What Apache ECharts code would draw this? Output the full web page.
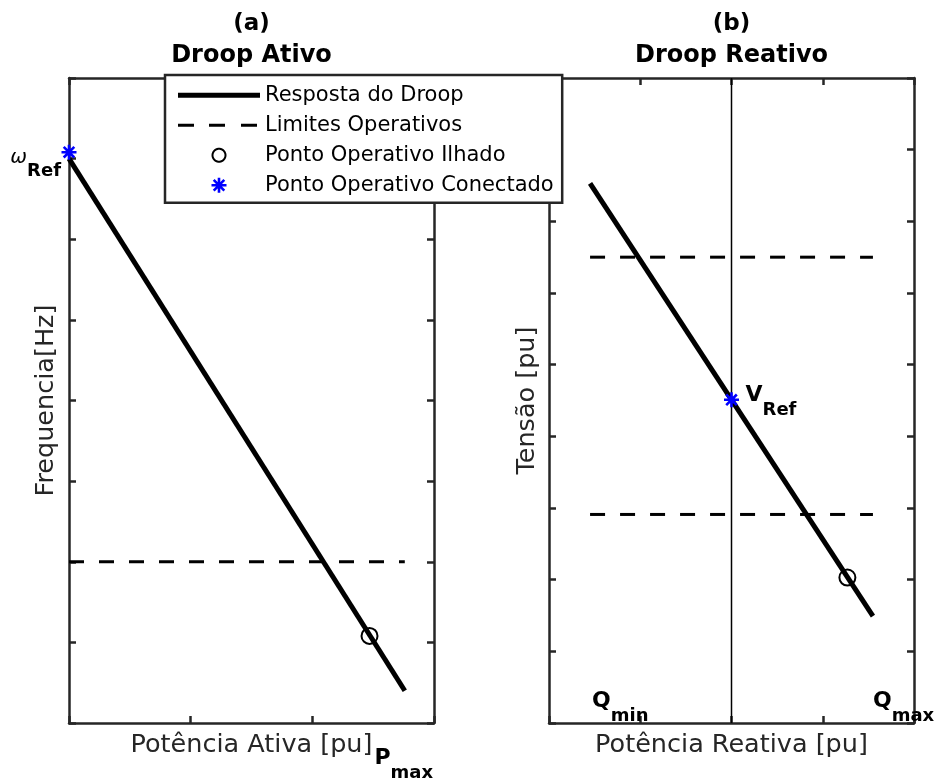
<!DOCTYPE html>
<html>
<head>
<meta charset="utf-8">
<script src="https://cdn.jsdelivr.net/npm/echarts@6/dist/echarts.min.js"></script>
<style>
  html, body { margin: 0; padding: 0; background: #fff; }
  #chart { width: 935px; height: 783px; }
</style>
</head>
<body>
<div id="chart"></div>
<script>
// ---- (a) Droop Ativo: frequency vs active power ----
const activePower = [0, 2.76];          // droop line start / end (pu)
const activeFrequency = [7.0, 0.4];     // matching frequency values
const activeLimit = 2.0;                // operating limit level
const activeIsland = [2.47, 1.08];      // islanded operating point
const activeConnected = [0, 7.08];      // grid-connected operating point (ω_Ref)
const pMax = 2.76;

// ---- (b) Droop Reativo: voltage vs reactive power ----
const reactivePower = [-1.55, 1.55];
const reactiveVoltage = [7.53, 1.49];
const voltageLimits = [6.5, 2.91];
const reactiveIsland = [1.27, 2.03];
const reactiveConnected = [0, 4.51];    // V_Ref
const qMin = -1.55;
const qMax = 1.55;

// ---- axis ranges (ticks only, no numeric labels) ----
const activeXRange = { min: 0, max: 3, interval: 1 };
const activeYRange = { min: 0, max: 8, interval: 1 };
const reactiveXRange = { min: -2, max: 2, interval: 1 };
const reactiveYRange = { min: 0, max: 9, interval: 1 };

// ---- texts ----
const panelTags = ['(a)', '(b)'];
const panelTitles = ['Droop Ativo', 'Droop Reativo'];
const xNames = ['Potência Ativa [pu]', 'Potência Reativa [pu]'];
const yNames = ['Frequencia[Hz]', 'Tensão [pu]'];
const legendNames = ['Resposta do Droop', 'Limites Operativos', 'Ponto Operativo Ilhado', 'Ponto Operativo Conectado'];

const FONT = 'DejaVu Sans';
const FRAME = '#262626';
const grids = [
  { left: 69, top: 78, width: 365, height: 645 },
  { left: 549, top: 78, width: 365, height: 645 }
];

// asterisk marker built from four thin bars
function asteriskPath(cx, cy, r, hw) {
  let d = '';
  [0, 45, 90, 135].forEach(function (deg) {
    const t = deg * Math.PI / 180;
    const dx = Math.cos(t), dy = Math.sin(t);
    const nx = -dy, ny = dx;
    const pts = [
      [cx - r * dx - hw * nx, cy - r * dy - hw * ny],
      [cx + r * dx - hw * nx, cy + r * dy - hw * ny],
      [cx + r * dx + hw * nx, cy + r * dy + hw * ny],
      [cx - r * dx + hw * nx, cy - r * dy + hw * ny]
    ];
    d += 'M' + pts.map(function (p) { return p[0].toFixed(2) + ',' + p[1].toFixed(2); }).join('L') + 'Z';
  });
  return d;
}
function ringPath(cx, cy, ro, ri) {
  const n = 48;
  let outer = [], inner = [];
  for (let i = 0; i < n; i++) {
    const a = i / n * Math.PI * 2;
    outer.push((cx + ro * Math.cos(a)).toFixed(2) + ',' + (cy + ro * Math.sin(a)).toFixed(2));
    inner.push((cx + ri * Math.cos(-a)).toFixed(2) + ',' + (cy + ri * Math.sin(-a)).toFixed(2));
  }
  return 'M' + outer.join('L') + 'Z M' + inner.join('L') + 'Z';
}

// legend icon box
const IW = 82, IH = 15;
const corners = 'M0,0L0.01,0L0,0.01Z M' + IW + ',' + IH + 'L' + (IW - 0.01) + ',' + IH + 'L' + IW + ',' + (IH - 0.01) + 'Z';
const iconLine = 'path://' + corners + ' M0,5L' + IW + ',5L' + IW + ',10L0,10Z';
const iconDash = 'path://' + corners + ' M0,6L16,6L16,9L0,9Z M31,6L47,6L47,9L31,9Z M63,6L79,6L79,9L63,9Z';
const iconRing = 'path://' + corners + ' ' + ringPath(IW / 2, IH / 2, 7.5, 5.5);
const iconStar = 'path://' + corners + ' ' + asteriskPath(IW / 2, IH / 2, 7.5, 1.3);
const starSymbol = 'path://' + asteriskPath(0, 0, 7.5, 1.3);

function frameAxis(gridIndex, position, range, extra) {
  return Object.assign({
    type: 'value', gridIndex: gridIndex, position: position,
    min: range.min, max: range.max, interval: range.interval,
    axisLine: { show: true, onZero: false, lineStyle: { color: FRAME, width: 2.5 } },
    axisTick: { show: true, inside: true, length: 7, lineStyle: { color: FRAME, width: 2.5 } },
    axisLabel: { show: false },
    splitLine: { show: false }
  }, extra || {});
}
const nameStyle = { fontFamily: FONT, fontSize: 25.5, color: FRAME };

const xAxes = [
  frameAxis(0, 'bottom', activeXRange, { name: xNames[0], nameLocation: 'middle', nameGap: 9, nameTextStyle: nameStyle }),
  frameAxis(0, 'top', activeXRange),
  frameAxis(1, 'bottom', reactiveXRange, { name: xNames[1], nameLocation: 'middle', nameGap: 9, nameTextStyle: nameStyle }),
  frameAxis(1, 'top', reactiveXRange)
];
const yAxes = [
  frameAxis(0, 'left', activeYRange, { name: yNames[0], nameLocation: 'middle', nameGap: 10, nameTextStyle: nameStyle }),
  frameAxis(0, 'right', activeYRange),
  frameAxis(1, 'left', reactiveYRange, { name: yNames[1], nameLocation: 'middle', nameGap: 9, nameTextStyle: nameStyle }),
  frameAxis(1, 'right', reactiveYRange)
];

function pairs(xs, ys) { return xs.map(function (x, i) { return [x, ys[i]]; }); }

const droopStyle = { color: '#000', width: 5 };
const limitStyle = { color: '#000', width: 3, type: [15, 15] };

const richStyles = {
  b: { fontFamily: FONT, fontWeight: 'bold', fontSize: 22, color: '#000', padding: [0, 0, 13, 0], verticalAlign: 'bottom' },
  s: { fontFamily: FONT, fontWeight: 'bold', fontSize: 18, color: '#000', verticalAlign: 'bottom' },
  w: { fontFamily: FONT, fontStyle: 'italic', fontSize: 20, color: '#000', padding: [0, 0, 12, 0], verticalAlign: 'bottom' }
};
function annotation(value, text, align, offset) {
  return {
    value: value,
    label: {
      show: true, position: [0, 0], align: align, verticalAlign: 'middle', color: '#000',
      offset: offset, formatter: text, rich: richStyles
    }
  };
}

const islandStyle = { color: 'rgba(0,0,0,0)', borderColor: '#000', borderWidth: 2, opacity: 1 };
const connectedStyle = { color: '#0000ff', opacity: 1 };

const series = [
  // panel (a)
  { name: legendNames[0], type: 'line', xAxisIndex: 0, yAxisIndex: 0, data: pairs(activePower, activeFrequency),
    symbol: 'none', color: '#000', lineStyle: droopStyle, z: 3 },
  { name: legendNames[1], type: 'line', xAxisIndex: 0, yAxisIndex: 0,
    data: [[activePower[0], activeLimit], [activePower[1], activeLimit]],
    symbol: 'none', color: '#000', lineStyle: limitStyle, z: 3 },
  { name: legendNames[2], type: 'scatter', xAxisIndex: 0, yAxisIndex: 0, data: [activeIsland],
    symbol: 'circle', symbolSize: 16, itemStyle: islandStyle, z: 4 },
  { name: legendNames[3], type: 'scatter', xAxisIndex: 0, yAxisIndex: 0, data: [activeConnected],
    symbol: starSymbol, symbolSize: 15, itemStyle: connectedStyle, z: 5 },
  { name: 'notasA', type: 'scatter', xAxisIndex: 0, yAxisIndex: 0, symbolSize: 0, silent: true, z: 6,
    itemStyle: { opacity: 1 },
    data: [
      annotation(activeConnected, '{w|ω}{s|Ref}', 'right', [-8, 12]),
      annotation([pMax, activeYRange.min], '{b|P}{s|max}', 'center', [-1, 42])
    ] },

  // panel (b)
  { name: 'eixoQ0', type: 'line', xAxisIndex: 2, yAxisIndex: 2,
    data: [[0, reactiveYRange.min], [0, reactiveYRange.max]],
    symbol: 'none', lineStyle: { color: '#000', width: 1.5 }, z: 2 },
  { name: legendNames[0], type: 'line', xAxisIndex: 2, yAxisIndex: 2, data: pairs(reactivePower, reactiveVoltage),
    symbol: 'none', color: '#000', lineStyle: droopStyle, z: 3 },
  { name: legendNames[1], type: 'line', xAxisIndex: 2, yAxisIndex: 2,
    data: [[reactivePower[0], voltageLimits[0]], [reactivePower[1], voltageLimits[0]]],
    symbol: 'none', color: '#000', lineStyle: limitStyle, z: 3 },
  { name: legendNames[1], type: 'line', xAxisIndex: 2, yAxisIndex: 2,
    data: [[reactivePower[0], voltageLimits[1]], [reactivePower[1], voltageLimits[1]]],
    symbol: 'none', color: '#000', lineStyle: limitStyle, z: 3 },
  { name: legendNames[2], type: 'scatter', xAxisIndex: 2, yAxisIndex: 2, data: [reactiveIsland],
    symbol: 'circle', symbolSize: 16, itemStyle: islandStyle, z: 4 },
  { name: legendNames[3], type: 'scatter', xAxisIndex: 2, yAxisIndex: 2, data: [reactiveConnected],
    symbol: starSymbol, symbolSize: 15, itemStyle: connectedStyle, z: 5 },
  { name: 'notasB', type: 'scatter', xAxisIndex: 2, yAxisIndex: 2, symbolSize: 0, silent: true, z: 6,
    itemStyle: { opacity: 1 },
    data: [
      annotation(reactiveConnected, '{b|V}{s|Ref}', 'left', [14, 2]),
      annotation([qMin, reactiveYRange.min], '{b|Q}{s|min}', 'left', [2, -15]),
      annotation([qMax, reactiveYRange.min], '{b|Q}{s|max}', 'left', [0, -15])
    ] }
];

// panel headings centred over each plot
const headings = [];
grids.forEach(function (g, i) {
  const cx = g.left + g.width / 2;
  headings.push({ type: 'text', x: cx, y: 24, silent: true,
    style: { text: panelTags[i], fontFamily: FONT, fontWeight: 'bold', fontSize: 23, fill: '#000',
             align: 'center', verticalAlign: 'middle', textAlign: 'center', textVerticalAlign: 'middle' } });
  headings.push({ type: 'text', x: cx, y: 56, silent: true,
    style: { text: panelTitles[i], fontFamily: FONT, fontWeight: 'bold', fontSize: 24, fill: '#000',
             align: 'center', verticalAlign: 'middle', textAlign: 'center', textVerticalAlign: 'middle' } });
});

const legendIcons = [iconLine, iconDash, iconRing, iconStar];
const legendColors = ['#000', '#000', '#000', '#0000ff'];

const option = {
  animation: false,
  backgroundColor: '#fff',
  grid: grids,
  xAxis: xAxes,
  yAxis: yAxes,
  graphic: headings,
  legend: {
    orient: 'vertical', left: 165, top: 75,
    padding: [9.75, 8.5, 7, 13],
    itemWidth: IW, itemHeight: IH, itemGap: 9,
    backgroundColor: '#fff', borderColor: FRAME, borderWidth: 2.5,
    selectedMode: false,
    textStyle: { fontFamily: FONT, fontSize: 21, color: '#000' },
    data: legendNames.map(function (n, i) {
      return { name: n, icon: legendIcons[i], itemStyle: { color: legendColors[i], borderWidth: 0, opacity: 1 } };
    }),
    z: 20
  },
  series: series
};

const chart = echarts.init(document.getElementById('chart'), null, { renderer: 'canvas' });
chart.setOption(option);
</script>
</body>
</html>
